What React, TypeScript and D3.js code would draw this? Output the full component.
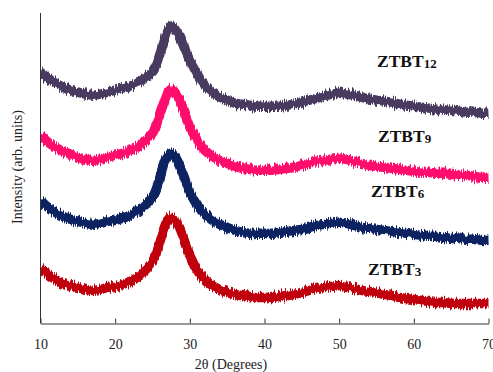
import React, { useEffect, useRef } from 'react';
import * as d3 from 'd3';

// 2θ positions (degrees), denser around the main peak
const twoTheta = [
  10, 11, 12, 13, 14, 15, 16, 17, 18, 19, 20, 21, 22, 23, 24,
  24.5, 25, 25.5, 26, 26.5, 27, 27.5, 28, 28.5, 29, 29.5, 30, 30.5, 31, 31.5, 32,
  33, 34, 35, 36, 37, 38, 39, 40, 41, 42, 43, 44, 45, 46, 47, 48, 49, 50, 51, 52,
  53, 54, 55, 56, 57, 58, 59, 60, 61, 62, 63, 64, 65, 66, 67, 68, 69, 70,
];

// intensities (arb. units, stacked offsets included)
const ztbt12 = [
  251, 245, 240, 236, 233, 231, 229, 228, 229, 231, 233, 235, 237, 240, 245,
  248, 251, 258, 269, 281, 292, 297, 294, 288, 280, 271, 263, 256, 249, 243, 238,
  231, 226, 223, 220, 219, 218, 217, 217, 217, 217, 218, 219, 221, 223, 225, 227, 229, 230, 229, 228,
  226, 224, 223, 222, 221, 219, 218, 217, 216, 215, 214, 213, 213, 212, 211, 211, 210, 210,
];
const ztbt9 = [
  188, 181, 176, 172, 169, 166, 164, 163, 164, 166, 168, 170, 173, 176, 182,
  186, 190, 198, 209, 220, 230, 234, 231, 225, 216, 206, 196, 189, 183, 177, 173,
  167, 163, 160, 157, 155, 154, 153, 153, 153, 154, 155, 156, 158, 160, 162, 163, 164, 165, 164, 162,
  160, 158, 157, 156, 155, 154, 153, 152, 151, 151, 150, 150, 149, 148, 148, 147, 146, 146,
];
const ztbt6 = [
  123, 116, 111, 107, 104, 102, 100, 99, 100, 102, 103, 105, 108, 112, 118,
  122, 126, 134, 146, 158, 167, 170, 167, 160, 151, 141, 131, 124, 118, 113, 109,
  103, 99, 96, 93, 91, 90, 90, 90, 90, 91, 92, 93, 94, 96, 98, 99, 100, 101, 100, 98,
  96, 95, 94, 93, 92, 91, 90, 89, 88, 87, 87, 86, 85, 85, 84, 84, 83, 83,
];
const ztbt3 = [
  56, 49, 44, 40, 38, 36, 34, 33, 34, 36, 37, 39, 42, 46, 53,
  57, 62, 70, 82, 94, 103, 106, 103, 97, 88, 78, 68, 60, 53, 48, 44,
  38, 34, 31, 29, 28, 27, 26, 26, 26, 27, 28, 29, 31, 33, 35, 36, 37, 38, 37, 35,
  33, 32, 31, 29, 28, 26, 25, 24, 23, 22, 21, 21, 20, 20, 20, 20, 20, 20,
];

const xTicks = [10, 20, 30, 40, 50, 60, 70];

const seriesList = [
  { name: 'ZTBT', sub: '12', values: ztbt12, color: '#4a3a60', lx: 377, ly: 67 },
  { name: 'ZTBT', sub: '9', values: ztbt9, color: '#ff0a6c', lx: 378, ly: 142 },
  { name: 'ZTBT', sub: '6', values: ztbt6, color: '#0a2060', lx: 371, ly: 197 },
  { name: 'ZTBT', sub: '3', values: ztbt3, color: '#c00008', lx: 368, ly: 275 },
];

const serif = '"Liberation Serif", "Times New Roman", serif';

export default function App() {
  const ref = useRef<SVGSVGElement>(null);

  useEffect(() => {
    const svg = d3.select(ref.current);
    svg.selectAll('*').remove();

    const left = 40.5, right = 488.5, top = 13, bottom = 323.5;
    const x = d3.scaleLinear().domain([10, 70]).range([left, right]);
    const y = d3.scaleLinear().domain([0, 310]).range([bottom, top]);

    // jagged edge texture for the detector noise look (vertical displacement only)
    const defs = svg.append('defs');
    const f = defs.append('filter').attr('id', 'grain')
      .attr('x', '-5%').attr('y', '-20%').attr('width', '110%').attr('height', '140%');
    f.append('feTurbulence')
      .attr('type', 'fractalNoise')
      .attr('baseFrequency', '0.9 0.04')
      .attr('numOctaves', 1)
      .attr('seed', 3)
      .attr('result', 'noise');
    f.append('feColorMatrix')
      .attr('in', 'noise')
      .attr('type', 'matrix')
      .attr('values', '0 0 0 0 0.5  0 1 0 0 0  0 0 0 0 0  0 0 0 0 1')
      .attr('result', 'map');
    f.append('feDisplacementMap')
      .attr('in', 'SourceGraphic')
      .attr('in2', 'map')
      .attr('scale', 10)
      .attr('xChannelSelector', 'R')
      .attr('yChannelSelector', 'G');

    const line = d3.line<number>()
      .x((_, i) => x(twoTheta[i]))
      .y((d) => y(d))
      .curve(d3.curveCatmullRom);

    seriesList.forEach((s) => {
      svg.append('path')
        .attr('d', line(s.values))
        .attr('fill', 'none')
        .attr('stroke', s.color)
        .attr('stroke-width', 9.5)
        .attr('stroke-linejoin', 'round')
        .attr('filter', 'url(#grain)');
    });

    // trim the band overshoot at the plot ends
    svg.append('rect').attr('x', 0).attr('y', 0).attr('width', left - 0.5).attr('height', 372).attr('fill', '#fff');
    svg.append('rect').attr('x', right + 1).attr('y', 0).attr('width', 10).attr('height', 372).attr('fill', '#fff');

    // axes
    const xAxis = svg.append('g')
      .attr('transform', `translate(0,${bottom})`)
      .call(d3.axisBottom(x).tickValues(xTicks).tickSizeInner(-5).tickSizeOuter(0).tickPadding(16));
    xAxis.attr('font-family', serif);
    xAxis.select('.domain').attr('stroke', '#333');
    xAxis.selectAll('line').attr('stroke', '#333');
    xAxis.selectAll('text')
      .attr('font-family', serif)
      .attr('font-size', 14)
      .attr('fill', '#222');

    svg.append('line')
      .attr('x1', left).attr('x2', left)
      .attr('y1', top).attr('y2', bottom)
      .attr('stroke', '#333');

    svg.append('text')
      .attr('x', 231).attr('y', 369)
      .attr('text-anchor', 'middle')
      .attr('font-family', serif)
      .attr('font-size', 14)
      .attr('fill', '#222')
      .text('2θ (Degrees)');

    svg.append('text')
      .attr('transform', 'translate(22,167) rotate(-90)')
      .attr('text-anchor', 'middle')
      .attr('font-family', serif)
      .attr('font-size', 14)
      .attr('fill', '#222')
      .text('Intensity (arb. units)');

    // sample labels
    seriesList.forEach((s) => {
      const t = svg.append('text')
        .attr('x', s.lx).attr('y', s.ly)
        .attr('font-family', serif)
        .attr('font-weight', 'bold')
        .attr('font-size', 17.5)
        .attr('fill', '#111');
      t.append('tspan').text(s.name);
      t.append('tspan').attr('font-size', 13).attr('dy', 1).text(s.sub);
    });
  }, []);

  return (
    <svg
      ref={ref}
      width={493}
      height={372}
      style={{ position: 'absolute', left: 0, top: 0, background: '#fff' }}
    />
  );
}
